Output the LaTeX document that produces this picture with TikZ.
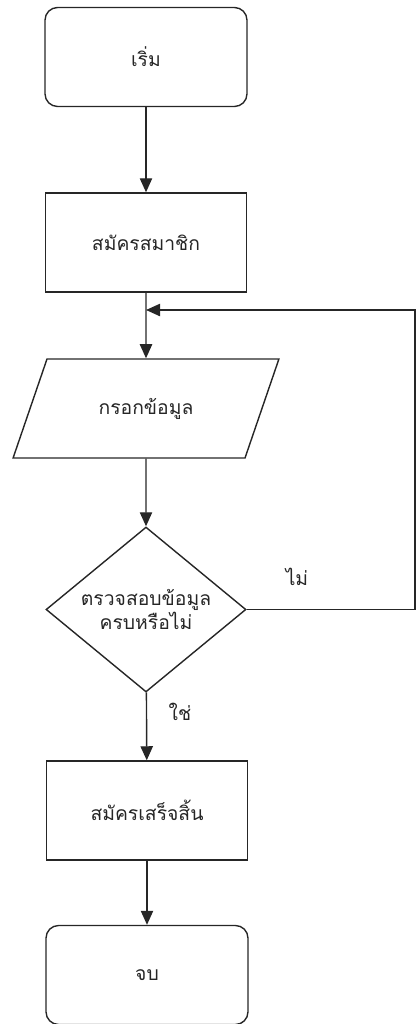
\documentclass[tikz,border=0pt]{standalone}
\usepackage{fontspec}
\newfontfamily\thaifont[Script=Thai]{Loma}
\usetikzlibrary{shapes.geometric,arrows.meta}

\begin{document}
\begin{tikzpicture}[x=0.02cm,y=-0.02cm,
    >={Triangle[length=8pt,width=7pt]},
    line width=0.8pt,color=black!85,
    every node/.style={font=\thaifont\fontsize{11}{14}\selectfont},
    terminal/.style={draw,rectangle,rounded corners=0.25cm,minimum width=4.04cm,minimum height=1.98cm},
    process/.style={draw,rectangle,minimum width=4.02cm,minimum height=1.98cm},
    io/.style={draw,trapezium,trapezium left angle=61,trapezium right angle=119,
      trapezium stretches=true,minimum width=5.36cm,minimum height=1.98cm},
    decision/.style={draw,diamond,aspect=1.21,minimum width=4cm,minimum height=3.3cm,
      inner sep=1pt,align=center}]
    \useasboundingbox (0,0) rectangle (417,1024);

    \draw node at (146,57)[name=start,terminal]{เริ่ม};
    \draw node at (146,242.5)[name=regist,process]{สมัครสมาชิก};
    \draw node at (146,408.5)[name=fill,io]{กรอกข้อมูล};
    \draw node at (146,609.5)[name=check,decision]{ตรวจสอบข้อมูล\\ครบหรือไม่};
    \draw node at (147,810.5)[name=done,process]{สมัครเสร็จสิ้น};
    \draw node at (147,975)[name=finish,terminal]{จบ};

    \coordinate (merge) at (146,310);
    \coordinate (backdown) at (415,609.5);
    \coordinate (backup) at (415,310);

    \draw[->](start) -- (regist);
    \draw[->](regist) -- (fill);
    \draw[->](fill) -- (check);
    \draw[->](check) -- (done);
    \draw[->](done) -- (finish);
    \draw[->](check.east) -- (backdown) -- (backup) -- (merge);

    \draw node at (297,577)[name=no]{ไม่};
    \draw node at (180,712)[name=yes]{ใช่};
\end{tikzpicture}
\end{document}
